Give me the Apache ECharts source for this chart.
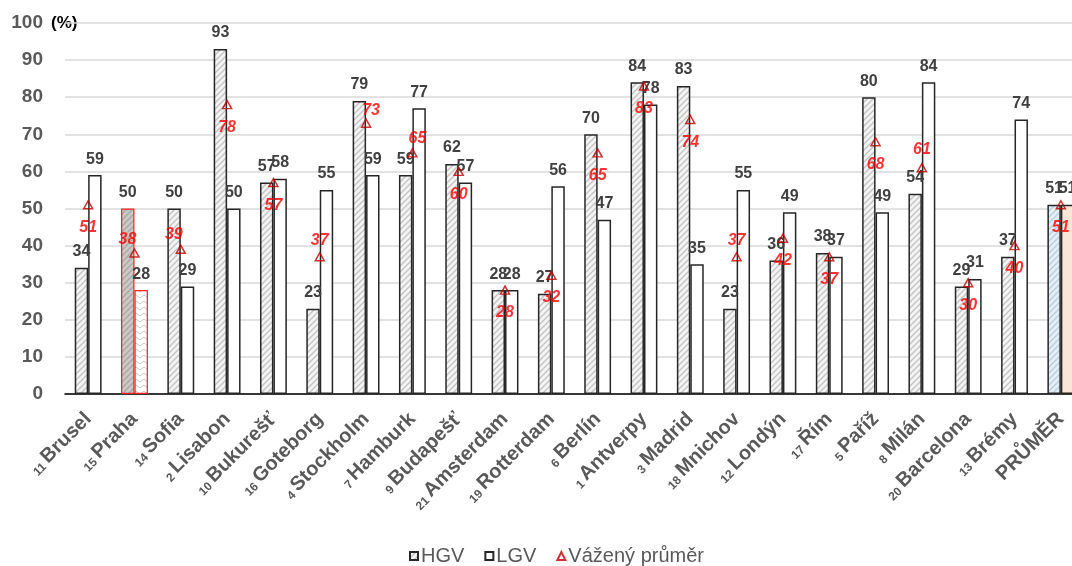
<!DOCTYPE html>
<html>
<head>
<meta charset="utf-8">
<script src="https://cdn.jsdelivr.net/npm/echarts@6/dist/echarts.min.js"></script>
<style>
  html, body { margin: 0; padding: 0; background: #fff; }
  #chart { width: 1072px; height: 566px; }
</style>
</head>
<body>
<div id="chart"></div>
<script>
// Cities (ordered as plotted) and their rank shown in front of the name
const cities = ['Brusel', 'Praha', 'Sofia', 'Lisabon', 'Bukurešť', 'Goteborg', 'Stockholm', 'Hamburk',
  'Budapešť', 'Amsterdam', 'Rotterdam', 'Berlín', 'Antverpy', 'Madrid', 'Mnichov', 'Londýn', 'Řím',
  'Paříž', 'Milán', 'Barcelona', 'Brémy', 'PRŮMĚR'];
const ranks = [11, 15, 14, 2, 10, 16, 4, 7, 9, 21, 19, 6, 1, 3, 18, 12, 17, 5, 8, 20, 13, null];

// Shares in percent
const hgv = [34, 50, 50, 93, 57, 23, 79, 59, 62, 28, 27, 70, 84, 83, 23, 36, 38, 80, 54, 29, 37, 51];
const lgv = [59, 28, 29, 50, 58, 55, 59, 77, 57, 28, 56, 47, 78, 35, 55, 49, 37, 49, 84, 31, 74, 51];
const weighted = [51, 38, 39, 78, 57, 37, 73, 65, 60, 28, 32, 65, 83, 74, 37, 42, 37, 68, 61, 30, 40, 51];

const yTicks = { min: 0, max: 100, step: 10 };

// Diagonal hatch tile used as a bar fill
function hatch(bg, stripe) {
  const c = document.createElement('canvas');
  c.width = 6; c.height = 6;
  const g = c.getContext('2d');
  g.fillStyle = bg; g.fillRect(0, 0, 6, 6);
  g.strokeStyle = stripe; g.lineWidth = 1.4;
  g.beginPath();
  g.moveTo(-1, 7); g.lineTo(7, -1);
  g.moveTo(-1, 1); g.lineTo(1, -1);
  g.moveTo(5, 7); g.lineTo(7, 5);
  g.stroke();
  return { image: c, repeat: 'repeat' };
}

// Small chevron tile
function chevrons(bg, stroke) {
  const c = document.createElement('canvas');
  c.width = 8; c.height = 6;
  const g = c.getContext('2d');
  g.fillStyle = bg; g.fillRect(0, 0, 8, 6);
  g.strokeStyle = stroke; g.lineWidth = 1;
  g.beginPath();
  g.moveTo(0, 1); g.lineTo(4, 4); g.lineTo(8, 1);
  g.stroke();
  return { image: c, repeat: 'repeat' };
}

const greyHatch = hatch('#f4f4f4', '#c4c4c4');
const darkHatch = hatch('#c9c9c9', '#a8a8a8');
const blueHatch = hatch('#e3eef5', '#b9cfdc');
const whiteChevron = chevrons('#ffffff', '#c8c8c8');

const highlightCity = 'Praha';
const averageCity = 'PRŮMĚR';

const hgvItems = hgv.map((v, i) => {
  if (cities[i] === highlightCity) return { value: v, itemStyle: { color: darkHatch, borderColor: '#ff2020', borderWidth: 1.2 } };
  if (cities[i] === averageCity) return { value: v, itemStyle: { color: blueHatch } };
  return v;
});
const lgvItems = lgv.map((v, i) => {
  if (cities[i] === highlightCity) return { value: v, itemStyle: { color: whiteChevron, borderColor: '#ff2020', borderWidth: 1.2 } };
  if (cities[i] === averageCity) return { value: v, itemStyle: { color: '#fbe5d6' } };
  return v;
});

// Where each weighted-average label sits relative to its triangle
const avgLabelAbove = {
  'Praha': [-7, 2], 'Sofia': [-7, 1], 'Goteborg': [0, 0], 'Mnichov': [0, 0],
  'Milán': [0, -2], 'Stockholm': [5, 3], 'Hamburk': [5, 1]
};
const avgItems = weighted.map((v, i) => {
  const off = avgLabelAbove[cities[i]];
  if (off) return { value: v, label: { position: 'top', distance: 3, offset: off } };
  return v;
});

const sansFont = '"Liberation Sans", Arial, sans-serif';
const barLabel = {
  show: true, position: 'top', distance: 8,
  color: '#404040', fontFamily: sansFont, fontSize: 16, fontWeight: 'bold'
};

const chart = echarts.init(document.getElementById('chart'));
chart.setOption({
  animation: false,
  backgroundColor: '#ffffff',
  grid: { left: 65, right: -12, top: 23, bottom: 172, outerBoundsMode: 'none' },
  legend: {
    left: 409, top: 546, padding: 0,
    itemWidth: 8, itemHeight: 8, itemGap: 20,
    textStyle: { color: '#595959', fontSize: 20, fontFamily: sansFont, padding: [0, 0, 0, -2] },
    data: [
      { name: 'HGV', icon: 'rect' },
      { name: 'LGV', icon: 'rect' },
      { name: 'Vážený průměr', icon: 'triangle' }
    ]
  },
  graphic: [{
    type: 'text', left: 51, top: 15,
    style: { text: '(%)', fill: '#000', font: 'bold 17px "Liberation Sans", Arial, sans-serif' }
  }],
  xAxis: {
    type: 'category',
    data: cities,
    axisLine: { lineStyle: { color: '#000', width: 1.5 } },
    axisTick: { show: false },
    axisLabel: {
      interval: 0, rotate: 45, margin: 22,
      formatter: (value, idx) => ranks[idx] ? `{n|${ranks[idx]}} {c|${value}}` : `{c|${value}}`,
      rich: {
        n: { fontSize: 12, fontWeight: 'bold', color: '#595959', fontFamily: sansFont, verticalAlign: 'bottom' },
        c: { fontSize: 20, fontWeight: 'bold', color: '#595959', fontFamily: sansFont }
      }
    }
  },
  yAxis: {
    type: 'value', min: yTicks.min, max: yTicks.max, interval: yTicks.step,
    axisLine: { show: false }, axisTick: { show: false },
    splitLine: { lineStyle: { color: '#d9d9d9', width: 1.5 } },
    axisLabel: {
      margin: 22, color: '#595959', fontSize: 19, fontWeight: 'bold', fontFamily: sansFont
    }
  },
  series: [
    {
      name: 'HGV', type: 'bar', data: hgvItems,
      barGap: '0%', barCategoryGap: '42%',
      itemStyle: { color: greyHatch, borderColor: '#262626', borderWidth: 1.5 },
      label: barLabel
    },
    {
      name: 'LGV', type: 'bar', data: lgvItems,
      itemStyle: { color: '#ffffff', borderColor: '#262626', borderWidth: 1.5 },
      label: barLabel
    },
    {
      name: 'Vážený průměr', type: 'scatter', data: avgItems, z: 5,
      symbol: 'triangle', symbolSize: [9, 8],
      itemStyle: { color: 'rgba(255,255,255,0)', borderColor: '#c00000', borderWidth: 1.5 },
      label: {
        show: true, position: 'bottom', distance: 10,
        color: '#ff0000', fontFamily: sansFont, fontSize: 16,
        fontWeight: 'bold', fontStyle: 'italic'
      }
    }
  ]
});
</script>
</body>
</html>
